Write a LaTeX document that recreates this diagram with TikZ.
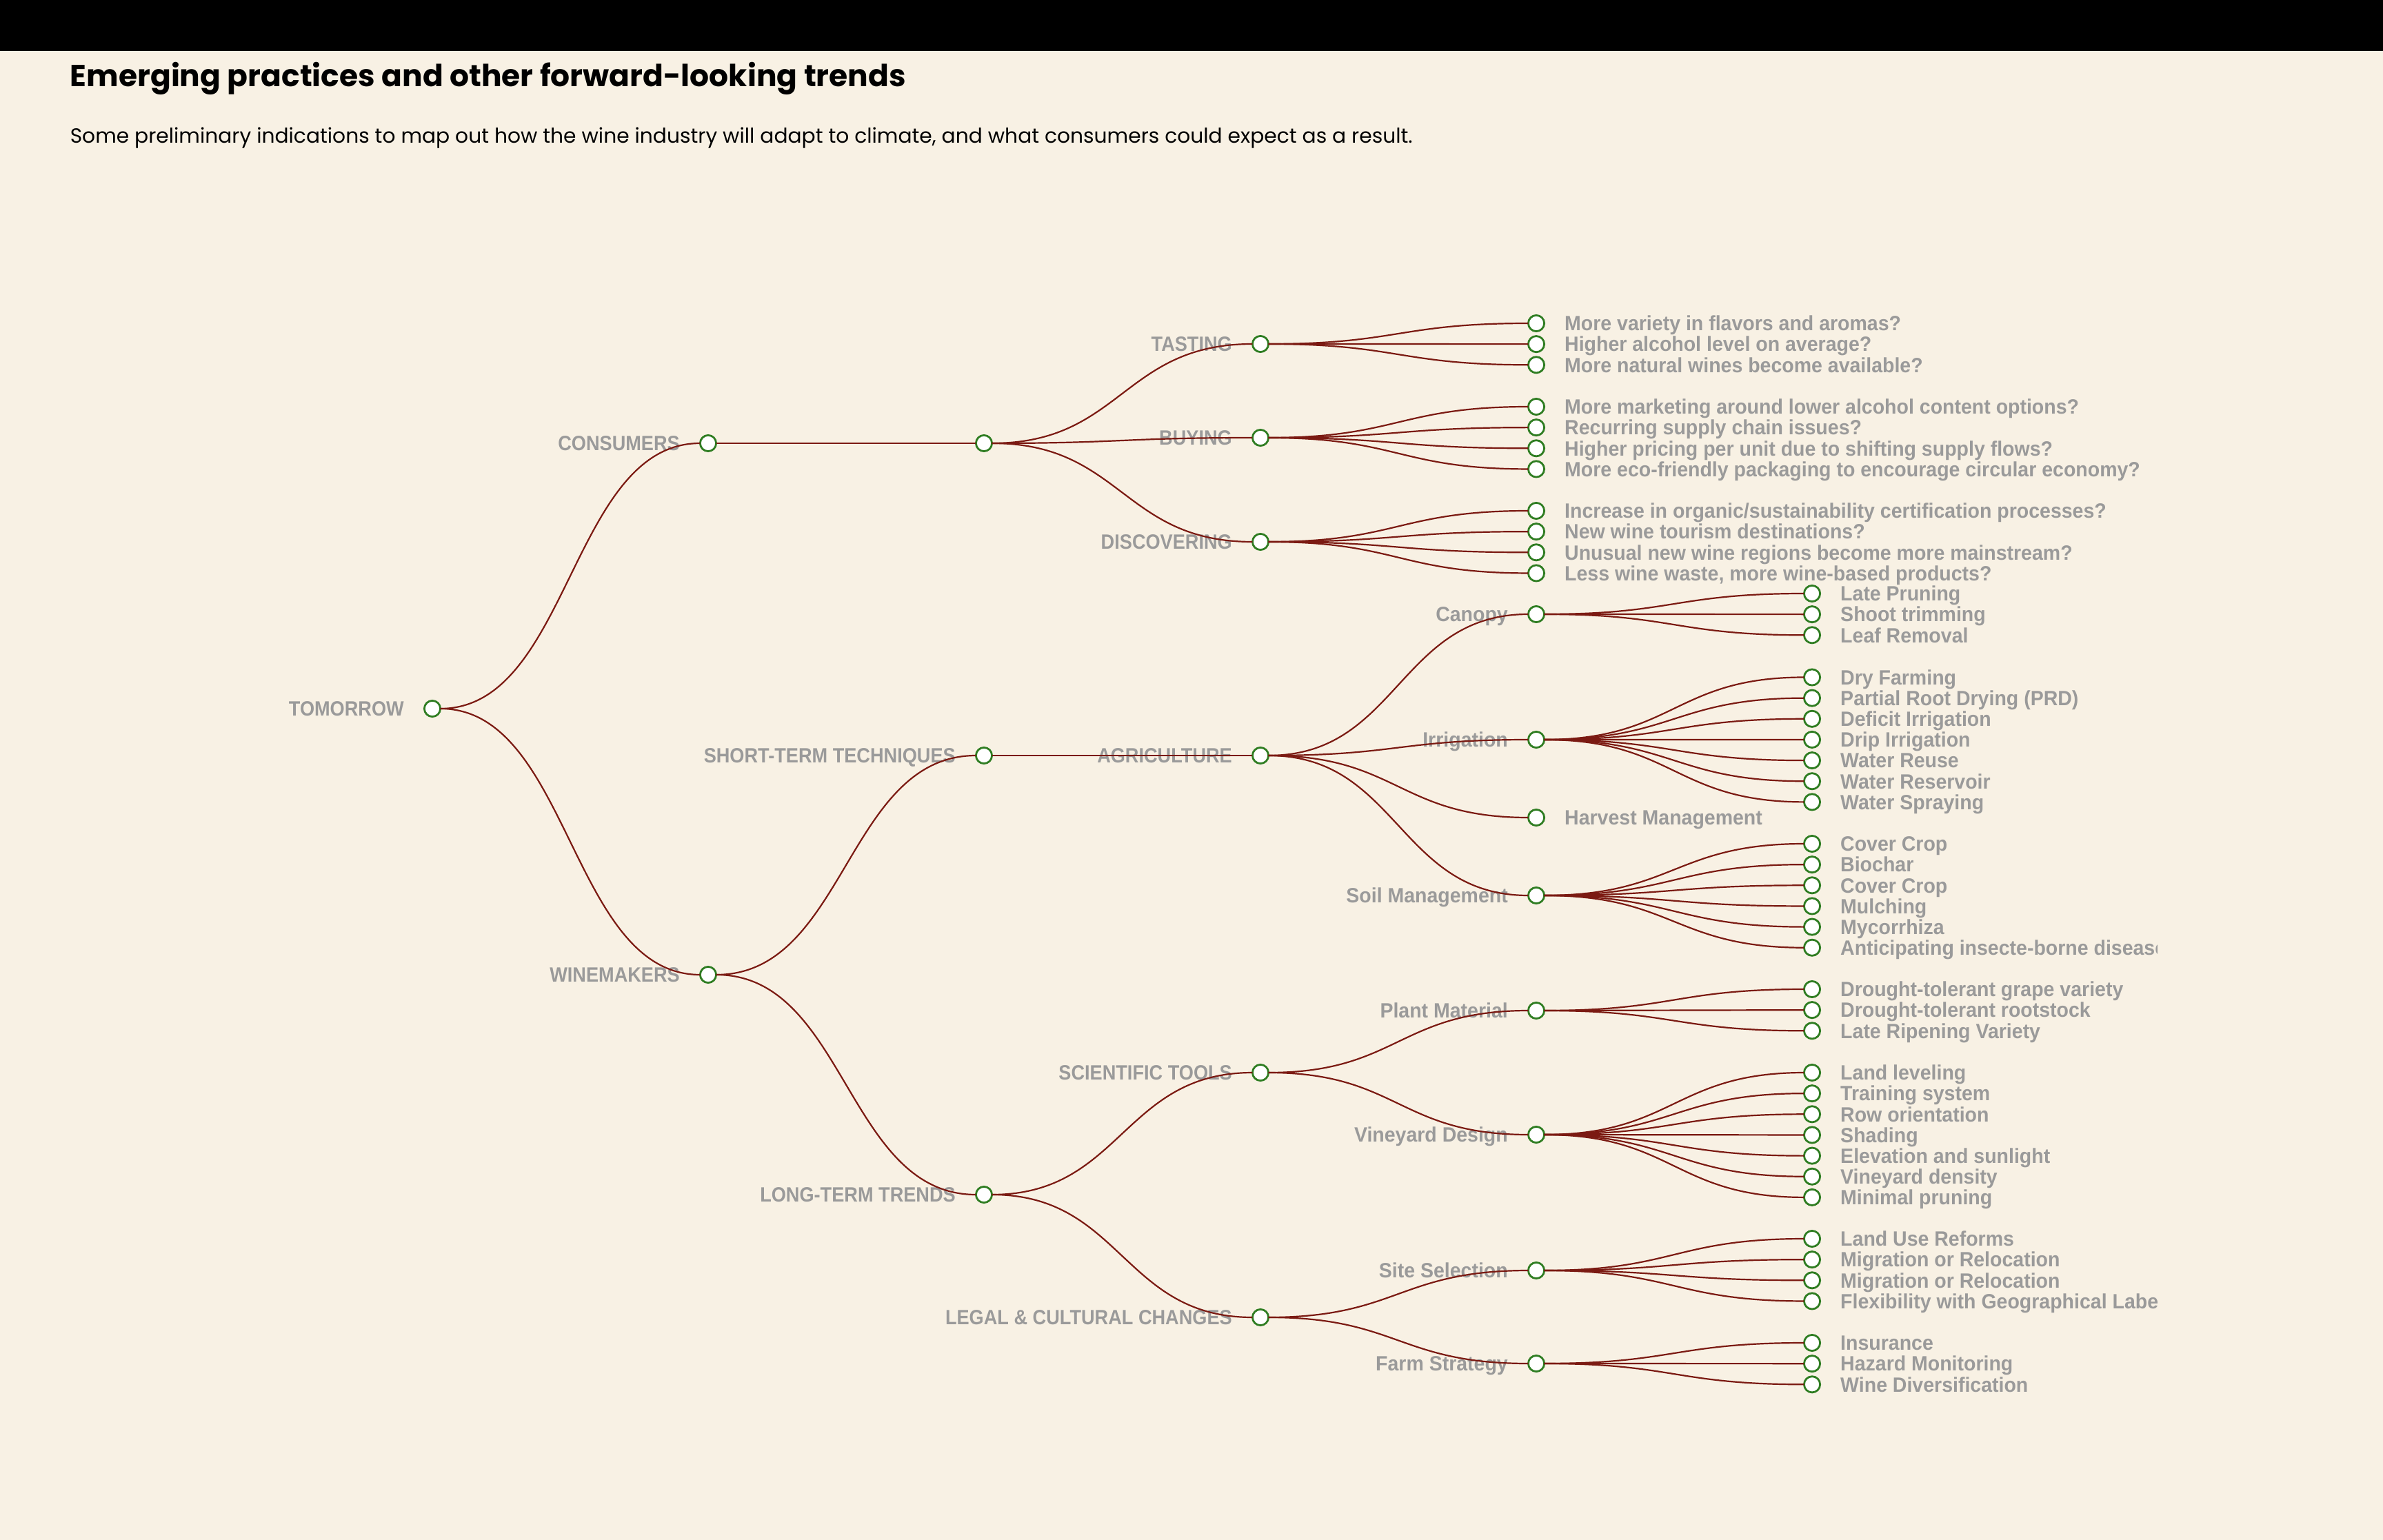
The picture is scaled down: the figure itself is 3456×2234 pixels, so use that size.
\documentclass[tikz,border=0pt]{standalone}
\usepackage{fontspec}
\newfontfamily\headfont{Poppins}
\newfontfamily\treefont[FakeStretch=0.95]{Liberation Sans}
\newfontfamily\capsfont[FakeStretch=0.905]{Liberation Sans}
\usetikzlibrary{calc}
\definecolor{cream}{HTML}{F8F1E4}
\definecolor{wine}{HTML}{7B1A12}
\definecolor{leafgreen}{HTML}{2F7D22}
\definecolor{labelgray}{HTML}{9A9A9A}
\tikzset{
  dot/.style={circle,draw=leafgreen,fill=white,line width=0.7pt,minimum size=5.8pt,inner sep=0pt,outer sep=0pt},
  lbl/.style={font=\treefont\bfseries\fontsize{7.5}{9}\selectfont,text=labelgray,inner sep=0pt,text height=5.4pt,text depth=0pt},
  lblcaps/.style={lbl,font=\capsfont\bfseries\fontsize{7.5}{9}\selectfont},
  link/.style={wine,line width=0.55pt},
}

\begin{document}
\begin{tikzpicture}[x=0.25pt,y=-0.25pt,label distance=7.2pt]
\useasboundingbox (0,0) rectangle (3456,2234);
\fill[cream] (0,0) rectangle (3456,2234);
\fill[black] (0,0) rectangle (3456,74);
\node[anchor=base west,inner sep=0pt,font=\headfont\bfseries\fontsize{11}{13}\selectfont] (title) at (101,126) {Emerging practices and other forward-looking trends};
\node[anchor=base west,inner sep=0pt,font=\headfont\fontsize{7.43}{9}\selectfont] (subtitle) at (101,208) {Some preliminary indications to map out how the wine industry will adapt to climate, and what consumers could expect as a result.};
\begin{scope}
\clip (0,0) rectangle (3128,2234);
\foreach \n/\x/\y/\lab in {root/627/1028/TOMORROW, cons/1027/643/CONSUMERS, wine/1027/1414/WINEMAKERS,
  short/1427/1096/SHORT-TERM TECHNIQUES, long/1427/1733/LONG-TERM TRENDS,
  tast/1828/499/TASTING, buy/1828/635/BUYING, disc/1828/786/DISCOVERING, agri/1828/1096/AGRICULTURE,
  sci/1828/1556/SCIENTIFIC TOOLS, legal/1828/1911/LEGAL \& CULTURAL CHANGES}
  { \node[dot,label={[lblcaps]left:\lab}] (\n) at (\x,\y) {}; }
\foreach \n/\y/\lab in {can/891/Canopy, irr/1073/Irrigation, soil/1299/Soil Management,
  plant/1466/Plant Material, vine/1646/Vineyard Design, site/1843/Site Selection, farm/1978/Farm Strategy}
  { \node[dot,label={[lbl]left:\lab}] (\n) at (2228,\y) {}; }
\node[dot] (cmid) at (1427,643) {};
\node[dot,label={[lbl]right:Harvest Management}] (harv) at (2228,1186) {};
\foreach \a/\b in {root/cons, root/wine, cons/cmid, cmid/tast, cmid/buy, cmid/disc, wine/short, wine/long,
  short/agri, long/sci, long/legal, agri/can, agri/irr, agri/harv, agri/soil, sci/plant, sci/vine, legal/site, legal/farm}
  { \draw[link] (\a.east) .. controls +(188,0) and +(-188,0) .. (\b.west); }
\foreach \p/\x/\y/\items in {
  tast/2228/469/{More variety in flavors and aromas?, Higher alcohol level on average?, More natural wines become available?},
  buy/2228/590/{More marketing around lower alcohol content options?, Recurring supply chain issues?, Higher pricing per unit due to shifting supply flows?, More eco-friendly packaging to encourage circular economy?},
  disc/2228/741/{Increase in organic\slash sustainability certification processes?, New wine tourism destinations?, Unusual new wine regions become more mainstream?, {Less wine waste, more wine-based products?}},
  can/2628/861/{Late Pruning, Shoot trimming, Leaf Removal},
  irr/2628/982.5/{Dry Farming, Partial Root Drying (PRD), Deficit Irrigation, Drip Irrigation, Water Reuse, Water Reservoir, Water Spraying},
  soil/2628/1224/{Cover Crop, Biochar, Cover Crop, Mulching, Mycorrhiza, Anticipating insecte-borne diseases},
  plant/2628/1435/{Drought-tolerant grape variety, Drought-tolerant rootstock, Late Ripening Variety},
  vine/2628/1556/{Land leveling, Training system, Row orientation, Shading, Elevation and sunlight, Vineyard density, Minimal pruning},
  site/2628/1797/{Land Use Reforms, Migration or Relocation, Migration or Relocation, Flexibility with Geographical Labels},
  farm/2628/1948/{Insurance, Hazard Monitoring, Wine Diversification}}
  { \foreach \txt [count=\k from 0] in \items
    { \node[dot,label={[lbl]right:\txt}] (\p-\k) at (\x,{\y+30.15*\k}) {};
      \draw[link] (\p.east) .. controls +(188,0) and +(-188,0) .. (\p-\k.west); } }
\end{scope}
\end{tikzpicture}
\end{document}
